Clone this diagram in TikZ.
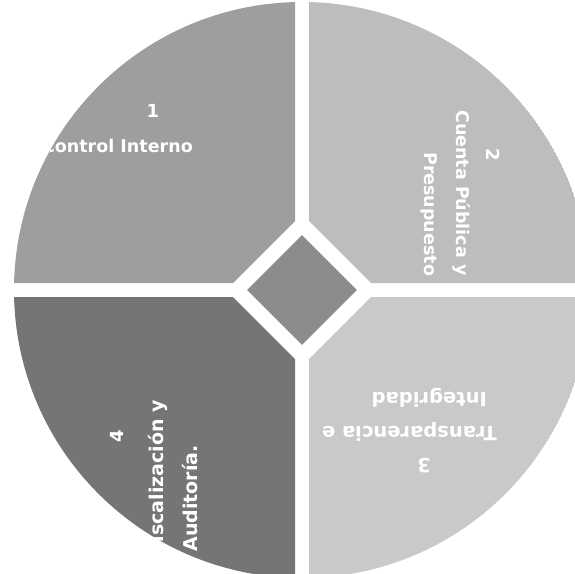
\documentclass[tikz,border=0pt]{standalone}
\usepackage{fontspec}
\setmainfont{DejaVu Sans}
\usetikzlibrary{shapes.geometric, positioning, calc}

\definecolor{segOne}{gray}{0.62}
\definecolor{segTwo}{gray}{0.74}
\definecolor{segThree}{gray}{0.79}
\definecolor{segFour}{gray}{0.46}
\definecolor{coreGray}{gray}{0.55}

\begin{document}
\begin{tikzpicture}[
      x=1pt, y=1pt,
      num/.style={text=white, inner sep=0pt, font=\bfseries\fontsize{#1}{#1}\selectfont},
      num/.default=18,
      lbl/.style={text=white, inner sep=0pt, font=\bfseries\fontsize{#1}{#1}\selectfont},
      lbl/.default=17.5,
      core/.style={diamond, fill=coreGray, minimum size=110pt, inner sep=0pt}
  ]
      \useasboundingbox (-302,-283) rectangle (273,290);

      % Top-left: Control Interno
      \begin{scope}
        \clip (-7,300) -- (-7,69) -- (-69,7) -- (-300,7) -- (-300,300) -- cycle;
        \clip (0,0) circle (288);
        \fill [segOne] (0,0) circle (288);
        \node [num, anchor=base] (n1) at (-149,172) {1};
        \node [lbl, anchor=base east] (t1) at (-109,138) {Control Interno};
      \end{scope}

      % Top-right: Cuenta Publica
      \begin{scope}
        \clip (7,300) -- (7,69) -- (69,7) -- (300,7) -- (300,300) -- cycle;
        \clip (0,0) circle (288);
        \fill [segTwo] (0,0) circle (288);
        \node [num, anchor=base, rotate=-90] (n2) at (184,135) {2};
        \node [lbl, anchor=base west, rotate=-90] (t2a) at (154,180) {Cuenta Pública y};
        \node [lbl, anchor=base west, rotate=-90] (t2b) at (122,138) {Presupuesto};
      \end{scope}

      % Bottom-right: Transparencia
      \begin{scope}
        \clip (7,-300) -- (7,-69) -- (69,-7) -- (300,-7) -- (300,-300) -- cycle;
        \clip (0,0) circle (288);
        \fill [segThree] (0,0) circle (288);
        \node [num=19.5, anchor=base, rotate=180] (n3) at (122,-168) {3};
        \node [lbl=19.5, anchor=base west, rotate=180] (t3a) at (195,-136) {Transparencia e};
        \node [lbl=19.5, anchor=base west, rotate=180] (t3b) at (185,-102) {Integridad};
      \end{scope}

      % Bottom-left: Fiscalizacion
      \begin{scope}
        \clip (-7,-300) -- (-7,-69) -- (-69,-7) -- (-300,-7) -- (-300,-300) -- cycle;
        \clip (0,0) circle (288);
        \fill [segFour] (0,0) circle (288);
        \node [num, anchor=base, rotate=90] (n4) at (-178,-146) {4};
        \node [lbl=19, anchor=base east, rotate=90] (t4a) at (-138,-110) {Fiscalización y};
        \node [lbl=19, anchor=base east, rotate=90] (t4b) at (-104,-155) {Auditoría.};
      \end{scope}

      % Middle: diamond
      \node [core] (hub) at (0,0) {};
  \end{tikzpicture}
\end{document}
